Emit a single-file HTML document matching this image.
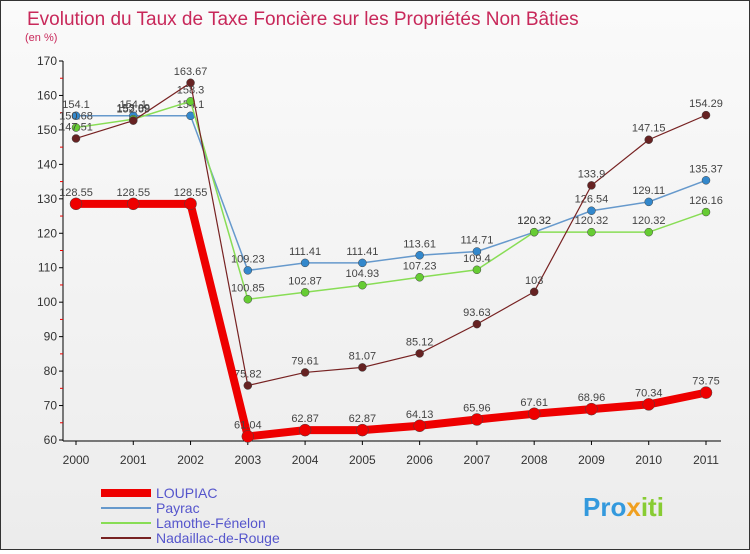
<!DOCTYPE html>
<html><head><meta charset="utf-8"><style>
body{margin:0;background:#fff}
#wrap{width:748px;height:548px;border:1px solid #333;background:linear-gradient(#fafafa,#ececec);position:relative;font-family:"Liberation Sans",sans-serif}
text{font-family:"Liberation Sans",sans-serif}
</style></head><body>
<div id="wrap">
<svg id="chart" width="748" height="548">
<text x="26" y="24" font-size="19" fill="#c8285a">Evolution du Taux de Taxe Foncière sur les Propriétés Non Bâties</text>
<text x="24" y="40" font-size="11" fill="#c8285a">(en %)</text>
<g id="axes"></g><g id="series"></g><g id="legend"></g>
<text x="582" y="515" font-size="26" font-weight="bold" fill="#3399dd">Pro<tspan fill="#f0a020">x</tspan><tspan fill="#88cc33">iti</tspan></text>
</svg></div>
<script>
const years=["2000","2001","2002","2003","2004","2005","2006","2007","2008","2009","2010","2011"];
const yTicks=[60,70,80,90,100,110,120,130,140,150,160,170];
const loupiac=[128.55,128.55,128.55,61.04,62.87,62.87,64.13,65.96,67.61,68.96,70.34,73.75];
const payrac=[154.1,154.1,154.1,109.23,111.41,111.41,113.61,114.71,120.32,126.54,129.11,135.37];
const lamothe=[150.68,153.09,158.3,100.85,102.87,104.93,107.23,109.4,120.32,120.32,120.32,126.16];
const nadaillac=[147.51,152.69,163.67,75.82,79.61,81.07,85.12,93.63,103,133.9,147.15,154.29];
const names=["LOUPIAC","Payrac","Lamothe-Fénelon","Nadaillac-de-Rouge"];
const NS="http://www.w3.org/2000/svg";
const x=i=>75+i*(630/11);
const y=v=>439-(v-60)*(379/110);
function mk(tag,attrs,parent){const e=document.createElementNS(NS,tag);for(const k in attrs)e.setAttribute(k,attrs[k]);parent.appendChild(e);return e;}
const ax=document.getElementById('axes');
let l=mk('line',{x1:62,y1:60,x2:62,y2:440,stroke:'#000'},ax);


l=mk('line',{x1:62,y1:440,x2:720,y2:440,stroke:'#000'},ax);


yTicks.forEach(v=>{
 mk('line',{x1:58,y1:y(v),x2:62,y2:y(v),stroke:'#000'},ax);
 if(v<170) mk('line',{x1:59,y1:y(v+5),x2:62,y2:y(v+5),stroke:'#e00'},ax);
 const t=mk('text',{x:56,y:y(v)+4,'font-size':12,'text-anchor':'end',fill:'#333'},ax);
 t.textContent=v;
 
 
});
years.forEach((yr,i)=>{
 mk('line',{x1:x(i),y1:440,x2:x(i),y2:444,stroke:'#000'},ax);
 const t=mk('text',{x:x(i),y:463,'font-size':12,'text-anchor':'middle',fill:'#333'},ax);
 t.textContent=yr;
 
 
});
const se=document.getElementById('series');
const cfg=[[payrac,'#6699cc','#3388cc',1.5,4],[lamothe,'#88dd55','#66cc33',1.5,4],[nadaillac,'#772222','#662222',1.2,4],[loupiac,'#ee0000','#ee0000',8,6]];
const nm=['series-payrac','series-lamothe','series-nadaillac','series-loupiac'];
cfg.forEach((c,k)=>{
 const g=mk('g',{},se);
 
 
 mk('polyline',{points:c[0].map((v,i)=>x(i)+','+y(v)).join(' '),fill:'none',stroke:c[1],'stroke-width':c[3]},g);
 c[0].forEach((v,i)=>{
  const p=mk('circle',{cx:x(i),cy:y(v),r:c[4],fill:c[2],stroke:'#444','stroke-width':0.5},g);
  
  
  const t=mk('text',{x:x(i),y:y(v)-8,'font-size':11,'text-anchor':'middle',fill:'#444'},g);
  t.textContent=v;
  
  
 });
});
const lg=document.getElementById('legend');
const lc=[['#ee0000',8],['#6699cc',2],['#88dd55',2],['#772222',2]];
names.forEach((n,i)=>{
 const yy=492+i*15;
 const g=mk('g',{},lg);
 
 
 mk('line',{x1:100,y1:yy,x2:150,y2:yy,stroke:lc[i][0],'stroke-width':lc[i][1]},g);
 const t=mk('text',{x:155,y:yy+5,'font-size':14,fill:'#5555cc'},g);
 t.textContent=n;
});
</script>
</body></html>
